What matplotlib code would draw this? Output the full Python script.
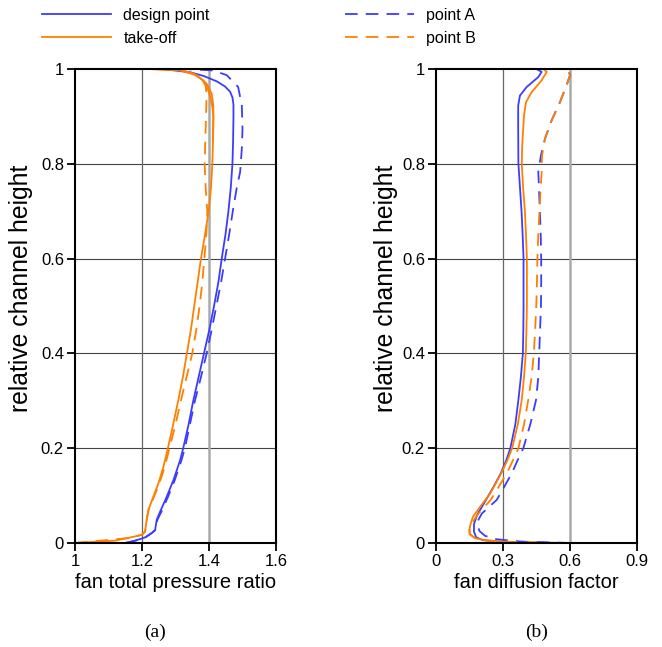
import matplotlib
matplotlib.use("Agg")
import matplotlib.pyplot as plt

# ---------------- data ----------------
# (a) fan total pressure ratio vs relative channel height
a_design_y = [0.0, 0.005, 0.012, 0.021, 0.027, 0.049, 0.066, 0.098, 0.133, 0.175, 0.200, 0.250, 0.300, 0.350,
              0.400, 0.450, 0.500, 0.550, 0.600, 0.650, 0.700, 0.750, 0.800, 0.850, 0.900, 0.925, 0.940,
              0.952, 0.963, 0.974, 0.985, 0.993, 1.0]
a_design_x = [1.150, 1.180, 1.210, 1.229, 1.239, 1.244, 1.254, 1.274, 1.294, 1.314, 1.323, 1.339, 1.353, 1.369,
              1.385, 1.401, 1.415, 1.428, 1.438, 1.449, 1.458, 1.465, 1.470, 1.472, 1.473, 1.473, 1.470,
              1.463, 1.448, 1.423, 1.385, 1.345, 1.260]

a_takeoff_y = [0.0, 0.005, 0.010, 0.017, 0.024, 0.049, 0.070, 0.098, 0.126, 0.161, 0.196, 0.250, 0.300, 0.350,
               0.400, 0.450, 0.500, 0.550, 0.600, 0.650, 0.700, 0.750, 0.800, 0.850, 0.900, 0.923, 0.948,
               0.969, 0.987, 0.997, 1.0]
a_takeoff_x = [1.000, 1.120, 1.154, 1.199, 1.209, 1.214, 1.219, 1.234, 1.249, 1.264, 1.276, 1.293, 1.308, 1.322,
               1.334, 1.346, 1.356, 1.366, 1.376, 1.388, 1.399, 1.406, 1.410, 1.412, 1.413, 1.413, 1.408,
               1.393, 1.363, 1.313, 1.220]

a_takeoff2_y = [0.850, 0.900, 0.920, 0.937, 0.955, 0.976, 0.990, 0.998, 1.0]
a_takeoff2_x = [1.412, 1.413, 1.410, 1.405, 1.398, 1.383, 1.353, 1.313, 1.220]

a_pointA_y = [0.0, 0.005, 0.012, 0.021, 0.027, 0.049, 0.066, 0.098, 0.133, 0.175, 0.200, 0.250, 0.300, 0.350,
              0.400, 0.450, 0.500, 0.550, 0.600, 0.650, 0.700, 0.750, 0.783, 0.832, 0.874, 0.923, 0.962,
              0.987, 0.997, 1.0]
a_pointA_x = [1.150, 1.180, 1.210, 1.229, 1.239, 1.246, 1.258, 1.278, 1.298, 1.318, 1.328, 1.343, 1.358, 1.376,
              1.393, 1.408, 1.422, 1.436, 1.448, 1.460, 1.471, 1.483, 1.493, 1.498, 1.500, 1.498, 1.487,
              1.453, 1.412, 1.330]

a_pointB_y = [0.0, 0.010, 0.017, 0.024, 0.049, 0.070, 0.098, 0.126, 0.161, 0.200, 0.250, 0.300, 0.350, 0.400,
              0.450, 0.500, 0.550, 0.600, 0.650, 0.700, 0.750, 0.800, 0.850, 0.900, 0.945, 0.965, 0.980,
              0.990, 0.997, 1.0]
a_pointB_x = [1.000, 1.154, 1.199, 1.209, 1.214, 1.220, 1.236, 1.252, 1.268, 1.282, 1.300, 1.316, 1.333, 1.350,
              1.362, 1.372, 1.380, 1.386, 1.392, 1.395, 1.390, 1.387, 1.389, 1.391, 1.393, 1.390, 1.378,
              1.355, 1.320, 1.240]

# (b) fan diffusion factor vs relative channel height
b_design_y = [0.0, 0.001, 0.003, 0.006, 0.012, 0.024, 0.040, 0.060, 0.091, 0.118, 0.147, 0.175, 0.200, 0.250,
              0.302, 0.350, 0.400, 0.450, 0.500, 0.550, 0.600, 0.650, 0.700, 0.750, 0.800, 0.874, 0.923,
              0.944, 0.962, 0.983, 0.994, 1.0]
b_design_x = [0.650, 0.350, 0.270, 0.210, 0.180, 0.170, 0.170, 0.185, 0.224, 0.257, 0.290, 0.315, 0.333, 0.355,
              0.369, 0.380, 0.389, 0.391, 0.392, 0.392, 0.392, 0.388, 0.383, 0.376, 0.369, 0.368, 0.368,
              0.376, 0.406, 0.458, 0.473, 0.450]

b_takeoff_y = [0.0, 0.002, 0.005, 0.010, 0.018, 0.027, 0.040, 0.055, 0.076, 0.104, 0.147, 0.175, 0.200, 0.250,
               0.302, 0.350, 0.400, 0.450, 0.500, 0.550, 0.600, 0.650, 0.700, 0.750, 0.800, 0.840, 0.902,
               0.930, 0.951, 0.976, 0.994, 1.0]
b_takeoff_x = [0.550, 0.330, 0.230, 0.175, 0.152, 0.149, 0.155, 0.165, 0.197, 0.242, 0.292, 0.320, 0.341, 0.366,
               0.384, 0.394, 0.402, 0.405, 0.407, 0.407, 0.407, 0.403, 0.398, 0.390, 0.384, 0.386, 0.394,
               0.403, 0.428, 0.473, 0.496, 0.480]

b_pointA_y = [0.0, 0.003, 0.008, 0.015, 0.025, 0.034, 0.049, 0.062, 0.091, 0.118, 0.147, 0.175, 0.200, 0.250,
              0.302, 0.350, 0.400, 0.450, 0.500, 0.550, 0.600, 0.650, 0.700, 0.750, 0.783, 0.818, 0.853,
              0.892, 0.930, 0.966, 0.987, 0.997, 1.0]
b_pointA_x = [0.600, 0.380, 0.270, 0.220, 0.195, 0.188, 0.190, 0.205, 0.272, 0.305, 0.339, 0.366, 0.391, 0.422,
              0.448, 0.458, 0.462, 0.466, 0.470, 0.471, 0.471, 0.469, 0.465, 0.461, 0.458, 0.470, 0.488,
              0.518, 0.555, 0.585, 0.600, 0.592, 0.560]

b_pointB_y = [0.0, 0.002, 0.006, 0.012, 0.020, 0.030, 0.045, 0.062, 0.091, 0.118, 0.147, 0.175, 0.200, 0.250,
              0.302, 0.350, 0.400, 0.450, 0.500, 0.550, 0.600, 0.650, 0.700, 0.750, 0.783, 0.818, 0.853,
              0.892, 0.930, 0.966, 0.987, 0.997, 1.0]
b_pointB_x = [0.550, 0.340, 0.220, 0.170, 0.150, 0.150, 0.165, 0.190, 0.245, 0.280, 0.317, 0.345, 0.369, 0.394,
              0.413, 0.428, 0.438, 0.444, 0.449, 0.452, 0.454, 0.458, 0.463, 0.469, 0.473, 0.475, 0.488,
              0.518, 0.555, 0.585, 0.600, 0.592, 0.560]

a_xticks = [1.0, 1.2, 1.4, 1.6]
a_xticklabels = ["1", "1.2", "1.4", "1.6"]
b_xticks = [0.0, 0.3, 0.6, 0.9]
b_xticklabels = ["0", "0.3", "0.6", "0.9"]
yticks = [0.0, 0.2, 0.4, 0.6, 0.8, 1.0]
yticklabels = ["0", "0.2", "0.4", "0.6", "0.8", "1"]

legend_labels = ["design point", "take-off", "point A", "point B"]
xlabels = ["fan total pressure ratio", "fan diffusion factor"]
ylabel = "relative channel height"
captions = ["(a)", "(b)"]

# ---------------- style ----------------
sans = "Liberation Sans"
serif = "Liberation Serif"

BLUE = "#3c3cff"
ORANGE = "#ff8000"
LW = 1.3
DASH = (7.0, 4.5)

W, H = 662, 647
fig = plt.figure(figsize=(W / 100, H / 100), dpi=100)

def fx(px):
    return px / W

def fy(py):
    return 1 - py / H

top_px, bot_px = 69, 543
ax_a = fig.add_axes([fx(75), fy(bot_px), (276 - 75) / W, (bot_px - top_px) / H])
ax_b = fig.add_axes([fx(436), fy(bot_px), (637 - 436) / W, (bot_px - top_px) / H])

def style(ax, xlim, xticks, xticklabels, grid_dark, grid_light):
    ax.set_xlim(*xlim)
    ax.set_ylim(0, 1)
    for y in [0.2, 0.4, 0.6, 0.8]:
        ax.axhline(y, color="#444444", lw=0.8, zorder=1)
    ax.axvline(grid_dark, color="#666666", lw=0.9, zorder=1)
    ax.axvline(grid_light, color="#aaaaaa", lw=1.8, zorder=1)
    for s in ax.spines.values():
        s.set_linewidth(1.5)
        s.set_color("black")
        s.set_zorder(5)
    ax.set_xticks(xticks)
    ax.set_xticklabels(xticklabels, fontfamily=sans, fontsize=12)
    ax.set_yticks(yticks)
    ax.set_yticklabels(yticklabels, fontfamily=sans, fontsize=12)
    ax.tick_params(direction="out", length=6, width=1.3, pad=2)

ld, = ax_a.plot(a_design_x, a_design_y, color=BLUE, lw=LW, zorder=3)
lt, = ax_a.plot(a_takeoff_x, a_takeoff_y, color=ORANGE, lw=LW, zorder=3)
ax_a.plot(a_takeoff2_x, a_takeoff2_y, color=ORANGE, lw=LW, zorder=3)
la, = ax_a.plot(a_pointA_x, a_pointA_y, color=BLUE, lw=LW, dashes=DASH, zorder=3)
lb, = ax_a.plot(a_pointB_x, a_pointB_y, color=ORANGE, lw=LW, dashes=DASH, zorder=3)

ax_b.plot(b_design_x, b_design_y, color=BLUE, lw=LW, zorder=3)
ax_b.plot(b_takeoff_x, b_takeoff_y, color=ORANGE, lw=LW, zorder=3)
ax_b.plot(b_pointA_x, b_pointA_y, color=BLUE, lw=LW, dashes=DASH, zorder=3)
ax_b.plot(b_pointB_x, b_pointB_y, color=ORANGE, lw=LW, dashes=DASH, zorder=3)

style(ax_a, (1.0, 1.6), a_xticks, a_xticklabels, 1.2, 1.4)
style(ax_b, (0.0, 0.9), b_xticks, b_xticklabels, 0.3, 0.6)

for ax, xl, yl_x, cap_x, cap in [(ax_a, xlabels[0], 21, 155, captions[0]),
                                 (ax_b, xlabels[1], 386, 537, captions[1])]:
    ax.set_xlabel(xl, fontfamily=sans, fontsize=14.5, labelpad=3)
    fig.text(fx(yl_x), fy(288), ylabel, rotation=90, ha="center", va="center",
             fontfamily=sans, fontsize=17.8)
    fig.text(fx(cap_x), fy(632), cap, ha="center", va="center",
             fontfamily=serif, fontsize=14)

leg_kw = dict(frameon=False, handlelength=4.3, handletextpad=0.8, labelspacing=0.5,
              borderpad=0, borderaxespad=0, prop={"family": sans, "size": 11.5})
fig.legend([ld, lt], legend_labels[:2], loc="upper left",
           bbox_to_anchor=(fx(42), fy(8)), **leg_kw)
fig.legend([la, lb], legend_labels[2:], loc="upper left",
           bbox_to_anchor=(fx(345), fy(8)), **leg_kw)

fig.savefig("out.png", dpi=100)
